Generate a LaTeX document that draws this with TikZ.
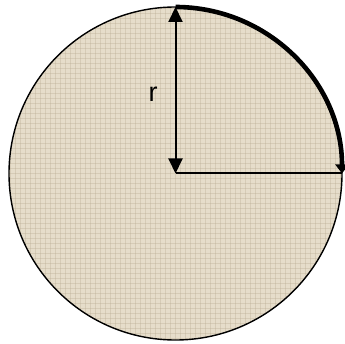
\documentclass[tikz,border=0pt]{standalone}
\usepackage{fontspec}
\setmainfont{Liberation Sans}
\usetikzlibrary{arrows.meta}
\definecolor{canvas}{RGB}{230,221,202}
\definecolor{weave}{RGB}{185,172,146}
\tikzset{
  radius line/.style = {line width = 2pt},
  rim arc/.style = {line width = 4.6pt, -{Triangle[length = 9pt, width = 13pt]}},
  both tips/.style = {{Triangle[length = 15pt, width = 14pt]}-{Triangle[length = 15pt, width = 14pt]}},
}
\begin{document}
\begin{tikzpicture}[x = 1pt, y = 1pt]
\useasboundingbox (0,0) rectangle (345,343);
\coordinate (o) at (175.5,169.5);
\coordinate (top) at (175.5,336);
\coordinate (rt) at (342,169.5);
\fill[canvas] (o) circle (166.5);
\begin{scope}
\clip (o) circle (166.5);
\foreach \i in {0,5,...,345}
{
	\draw[weave, opacity = 0.35, line width = 0.8pt] (\i,0) -- (\i,343);
	\draw[weave, opacity = 0.35, line width = 0.8pt] (0,\i) -- (345,\i);
}
\end{scope}
\draw[line width = 1.4pt] (o) circle (166.5);
\draw[rim arc] (top) arc (90:0:166.5);
\draw[radius line, both tips] (o) -- (top);
\draw[radius line] (o) -- (rt);
\node[font = \fontsize{27}{27}\selectfont] (r) at (153,249) {r};
\end{tikzpicture}
\end{document}
